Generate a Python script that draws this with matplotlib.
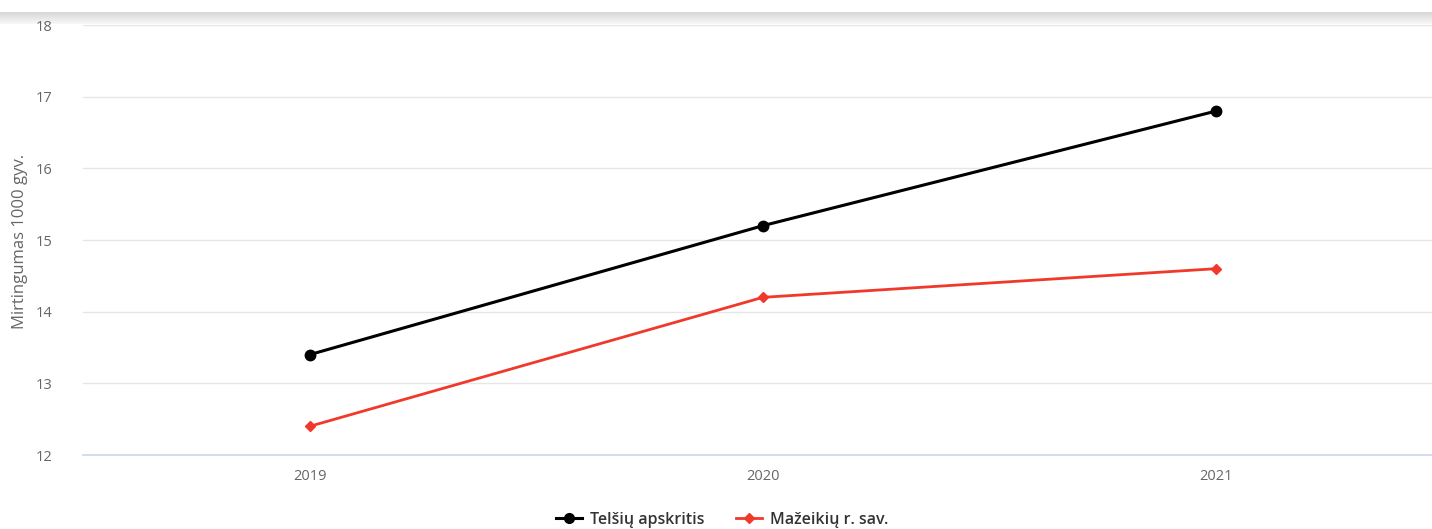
import matplotlib
matplotlib.use("Agg")
import matplotlib.pyplot as plt
import numpy as np
from matplotlib.lines import Line2D

years = ["2019", "2020", "2021"]
telsiai = [13.4, 15.2, 16.8]
mazeikiai = [12.4, 14.2, 14.6]
series_names = ["Telšių apskritis", "Mažeikių r. sav."]
y_label = "Mirtingumas 1000 gyv."
y_ticks = [12, 13, 14, 15, 16, 17, 18]

plt.rcParams['font.family'] = ['Open Sans', 'DejaVu Sans']

W, H = 1432, 529
fig = plt.figure(figsize=(W / 100, H / 100), dpi=100)

# top shadow band
sh = fig.add_axes([0, 1 - 24 / H, 1, 12 / H])
grad = np.linspace(0.84, 0.97, 50).reshape(-1, 1)
sh.imshow(grad, aspect='auto', cmap='gray', vmin=0, vmax=1, extent=[0, 1, 0, 1])
sh.axis('off')

ax = fig.add_axes([83 / W, 1 - 455 / H, 1 - 83 / W, (455 - 25) / H])
x = np.arange(len(years))
ax.plot(x, telsiai, color='#000000', lw=2.2, marker='o', ms=7.5, zorder=3)
ax.plot(x, mazeikiai, color='#f0392b', lw=2.0, marker='D', ms=5.5, zorder=3)

ax.set_xlim(-0.5, 2.476)
ax.set_ylim(12, 18)
ax.set_yticks(y_ticks)
ax.set_xticks(x)
ax.set_xticklabels(years)
ax.grid(axis='y', color='#e6e6e6', lw=1)
ax.set_axisbelow(True)
for s in ['top', 'right', 'left']:
    ax.spines[s].set_visible(False)
ax.spines['bottom'].set_color('#ccd6eb')
ax.spines['bottom'].set_linewidth(1.2)
ax.tick_params(axis='both', length=0, colors='#666666', labelsize=10.5)
ax.tick_params(axis='x', pad=10)
ax.tick_params(axis='y', pad=22)
for lab in ax.get_yticklabels():
    lab.set_horizontalalignment('right')

fig.text(20 / W, 1 - 241 / H, y_label, rotation=90, ha='center', va='center',
         color='#666666', fontsize=12)

handles = [
    Line2D([0], [0], color='#000000', lw=2.2, marker='o', ms=7),
    Line2D([0], [0], color='#f0392b', lw=2.0, marker='D', ms=5),
]
fig.legend(handles, series_names, loc='center', bbox_to_anchor=(722 / W, 1 - 520 / H),
           ncol=2, frameon=False, handlelength=1.6, columnspacing=2.0,
           handletextpad=0.5, prop={'weight': 'semibold', 'size': 11.5})
for t in fig.legends[0].get_texts():
    t.set_color('#333333')

fig.savefig("out.png", dpi=100, facecolor='white')
